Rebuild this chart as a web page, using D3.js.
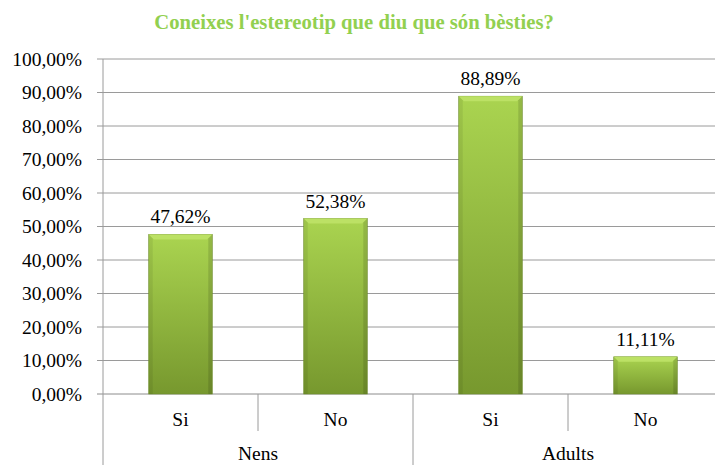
<!DOCTYPE html>
<html>
<head>
<meta charset="utf-8">
<script src="https://cdn.jsdelivr.net/npm/d3@7"></script>
<style>
body{margin:0;background:#fff;}
svg{display:block;}
svg text{font-family:"Liberation Serif","Times New Roman",serif !important;}
</style>
</head>
<body>
<svg id="chart"></svg>
<script>
var groups=["Nens","Adults"];
var answers=["Si","No"];
var values=[47.62,52.38,88.89,11.11];
var yTicks=[0,10,20,30,40,50,60,70,80,90,100];

var screen={width:715,height:465}
var margins={top:59,bottom:71,left:103,right:-8}
var fontSize="19.5px";
var serif="'Liberation Serif','Times New Roman',serif";

var svg=d3.select("#chart")
    .attr("width",screen.width)
    .attr("height",screen.height)

//one slot per bar
var slots=[];
groups.forEach(function(g){
    answers.forEach(function(a){ slots.push(g+"|"+a) })
})

var xScale=d3.scaleBand()
    .domain(slots)
    .range([margins.left,screen.width-margins.right])
    .paddingInner(0.59)
    .paddingOuter(0.295)
var yScale=d3.scaleLinear()
    .domain([0,100])
    .range([screen.height-margins.bottom,margins.top])

var fmt=function(v){ return v.toFixed(2).replace(".",",")+"%" }

var defs=svg.append("defs");
var grad=defs.append("linearGradient").attr("id","barGrad")
    .attr("x1",0).attr("y1",0).attr("x2",0).attr("y2",1)
grad.append("stop").attr("offset","0%").attr("stop-color","#aad450")
grad.append("stop").attr("offset","100%").attr("stop-color","#77982e")

//title
svg.append("text")
    .attr("x",354).attr("y",29)
    .attr("text-anchor","middle")
    .style("font-family",serif)
    .style("font-size","20.7px").style("font-weight","bold")
    .style("fill","#92d050")
    .text("Coneixes l'estereotip que diu que són bèsties?")

//gridlines
svg.append("g").selectAll("line")
    .data(yTicks)
    .enter().append("line")
    .attr("x1",margins.left-6).attr("x2",screen.width-margins.right)
    .attr("y1",function(d){return yScale(d)}).attr("y2",function(d){return yScale(d)})
    .attr("stroke",function(d){return d==0?"#8c8c8c":"#9a9a9a"}).attr("stroke-width",1)

//y axis
var yAxis=d3.axisLeft(yScale).tickValues(yTicks).tickSize(0).tickPadding(21)
    .tickFormat(fmt)
var gy=svg.append("g").attr("transform","translate("+margins.left+",0)").call(yAxis)
gy.attr("font-family",serif).attr("font-size",null)
gy.select(".domain").remove()
gy.selectAll("text").style("font-family",serif).style("font-size",fontSize).style("fill","#000")
svg.append("line")
    .attr("x1",margins.left).attr("x2",margins.left)
    .attr("y1",margins.top).attr("y2",screen.height)
    .attr("stroke","#9a9a9a")

//bars
var bars=svg.append("g").selectAll("g")
    .data(values)
    .enter().append("g")
bars.append("rect")
    .attr("x",function(d,i){return xScale(slots[i])})
    .attr("y",function(d){return yScale(d)})
    .attr("width",xScale.bandwidth())
    .attr("height",function(d){return yScale(0)-yScale(d)})
    .attr("fill","url(#barGrad)")
    .attr("stroke","#6f8f2c").attr("stroke-width",0.6)
//bevel top
bars.append("path")
    .attr("d",function(d,i){
        var x0=xScale(slots[i]),x1=x0+xScale.bandwidth(),y0=yScale(d),b=5;
        return "M"+x0+","+y0+"L"+x1+","+y0+"L"+(x1-b)+","+(y0+b)+"L"+(x0+b)+","+(y0+b)+"Z"
    })
    .attr("fill","#bde266").attr("opacity",0.95)
//bevel sides
bars.append("path")
    .attr("d",function(d,i){
        var x0=xScale(slots[i]),y0=yScale(d),y1=yScale(0),b=4;
        return "M"+x0+","+y0+"L"+(x0+b)+","+(y0+b)+"L"+(x0+b)+","+y1+"L"+x0+","+y1+"Z"
    })
    .attr("fill","#000").attr("opacity",0.07)
bars.append("path")
    .attr("d",function(d,i){
        var x1=xScale(slots[i])+xScale.bandwidth(),y0=yScale(d),y1=yScale(0),b=4;
        return "M"+x1+","+y0+"L"+(x1-b)+","+(y0+b)+"L"+(x1-b)+","+y1+"L"+x1+","+y1+"Z"
    })
    .attr("fill","#000").attr("opacity",0.12)

//value labels
bars.append("text")
    .attr("x",function(d,i){return xScale(slots[i])+xScale.bandwidth()/2})
    .attr("y",function(d){return yScale(d)-11})
    .attr("text-anchor","middle")
    .style("font-family",serif)
    .style("font-size",fontSize).style("fill","#000")
    .text(function(d){return fmt(d)})

//category axis
var step=xScale.step();
var catLeft=margins.left;
var axisY=yScale(0);
slots.forEach(function(s,i){
    var cx=catLeft+step*(i+0.5);
    svg.append("text").attr("x",cx).attr("y",axisY+32)
        .attr("text-anchor","middle")
        .style("font-family",serif).style("font-size",fontSize)
        .text(s.split("|")[1])
})
//separators
for(var i=1;i<slots.length;i++){
    var sx=catLeft+step*i;
    var major=(i%answers.length==0);
    svg.append("line").attr("x1",sx).attr("x2",sx)
        .attr("y1",axisY).attr("y2",major?screen.height:axisY+37)
        .attr("stroke","#9a9a9a")
}
groups.forEach(function(g,gi){
    var gx=catLeft+step*answers.length*(gi+0.5);
    svg.append("text").attr("x",gx).attr("y",axisY+66)
        .attr("text-anchor","middle")
        .style("font-family",serif).style("font-size",fontSize)
        .text(g)
})
</script>
</body>
</html>
